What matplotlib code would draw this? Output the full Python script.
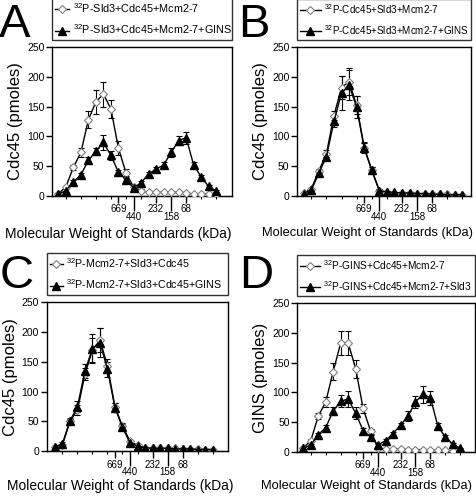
import matplotlib
matplotlib.use("Agg")
import matplotlib.pyplot as plt

plt.rcParams['font.family'] = ['Liberation Sans', 'DejaVu Sans']
plt.rcParams['mathtext.default'] = 'regular'

# fraction numbers along the gel filtration column
fractions = [1, 2, 3, 4, 5, 6, 7, 8, 9, 10, 11, 12, 13, 14, 15, 16, 17, 18, 19, 20, 21, 22]

# molecular weight standards (kDa) and the fraction where they elute
std_upper_pos = [9, 14, 18]
std_upper_lab = ['669', '232', '68']
std_lower_pos = [11, 16]
std_lower_lab = ['440', '158']
minor_pos = [2, 4, 6, 8, 10, 12, 14, 16, 18, 20, 22]

# panel A
a_open = [4, 15, 48, 73, 128, 158, 171, 146, 80, 39, 15, 9, 6, 6, 6, 6, 6, 5, 3, 3, 3, 3]
a_open_err = [1, 2, 4, 7, 14, 20, 21, 15, 12, 6, 3, 2, 1, 1, 1, 1, 1, 1, 1, 1, 1, 1]
a_fill = [3, 9, 24, 35, 60, 75, 90, 68, 40, 27, 14, 22, 37, 45, 52, 73, 93, 98, 52, 32, 16, 8]
a_fill_err = [1, 2, 3, 4, 5, 6, 12, 7, 4, 3, 2, 3, 4, 4, 5, 8, 8, 10, 5, 3, 2, 2]

# panel B
b_open = [5, 12, 42, 71, 135, 182, 192, 152, 81, 43, 9, 6, 5, 5, 5, 4, 4, 3, 3, 3, 2, 2]
b_open_err = [1, 2, 4, 6, 8, 20, 22, 15, 8, 5, 2, 1, 1, 1, 1, 1, 1, 1, 1, 1, 1, 1]
b_fill = [4, 10, 38, 66, 125, 173, 186, 149, 81, 44, 9, 7, 6, 5, 5, 4, 4, 3, 3, 2, 2, 2]
b_fill_err = [1, 2, 4, 6, 10, 28, 25, 18, 9, 5, 2, 1, 1, 1, 1, 1, 1, 1, 1, 1, 1, 1]

# panel C
c_open = [7, 11, 50, 69, 129, 170, 186, 143, 74, 42, 17, 10, 6, 5, 5, 5, 5, 4, 4, 4, 3, 3]
c_open_err = [1, 2, 4, 8, 10, 20, 20, 12, 7, 5, 2, 2, 1, 1, 1, 1, 1, 1, 1, 1, 1, 1]
c_fill = [7, 13, 51, 75, 135, 172, 182, 137, 73, 40, 14, 9, 6, 5, 5, 5, 4, 4, 4, 3, 3, 3]
c_fill_err = [1, 2, 4, 10, 12, 24, 24, 12, 8, 5, 2, 1, 1, 1, 1, 1, 1, 1, 1, 1, 1, 1]

# panel D
d_open = [7, 19, 60, 84, 135, 183, 183, 140, 73, 35, 6, 5, 5, 5, 4, 4, 4, 3, 3, 3, 2, 2]
d_open_err = [1, 2, 5, 8, 15, 20, 20, 15, 8, 4, 1, 1, 1, 1, 1, 1, 1, 1, 1, 1, 1, 1]
d_fill = [6, 12, 29, 41, 69, 85, 89, 65, 36, 25, 12, 19, 31, 45, 60, 84, 97, 91, 43, 25, 13, 6]
d_fill_err = [1, 2, 3, 4, 7, 10, 14, 10, 5, 3, 2, 2, 3, 4, 8, 10, 14, 12, 5, 3, 2, 1]

XLABEL = 'Molecular Weight of Standards (kDa)'

panels = [
    dict(letter='A', rect=(52, 47, 232, 196), xlim=(0.16, 24.1), ylabel='Cdc45 (pmoles)',
         open=a_open, open_err=a_open_err, fill=a_fill, fill_err=a_fill_err,
         labels=['$^{32}$P-Sld3+Cdc45+Mcm2-7', '$^{32}$P-Sld3+Cdc45+Mcm2-7+GINS'],
         leg=(7.8, 1.3), lpos=(-1, 3), xlab=(118, 227, 9.9)),
    dict(letter='B', rect=(297, 47, 471.5, 196), xlim=(0.11, 23.2), ylabel='Cdc45 (pmoles)',
         open=b_open, open_err=b_open_err, fill=b_fill, fill_err=b_fill_err,
         labels=['$^{32}$P-Cdc45+Sld3+Mcm2-7', '$^{32}$P-Cdc45+Sld3+Mcm2-7+GINS'],
         leg=(7.1, 2.1), lpos=(238, 3), xlab=(368, 227, 9.3)),
    dict(letter='C', rect=(46.7, 302, 228.3, 451.3), xlim=(-0.1, 24.1), ylabel='Cdc45 (pmoles)',
         open=c_open, open_err=c_open_err, fill=c_fill, fill_err=c_fill_err,
         labels=['$^{32}$P-Mcm2-7+Sld3+Cdc45', '$^{32}$P-Mcm2-7+Sld3+Cdc45+GINS'],
         leg=(7.7, 1.2), lpos=(0, 254), xlab=(120, 479, 9.9)),
    dict(letter='D', rect=(297.3, 303, 475.3, 452), xlim=(0.2, 24.0), ylabel='GINS (pmoles)',
         open=d_open, open_err=d_open_err, fill=d_fill, fill_err=d_fill_err,
         labels=['$^{32}$P-GINS+Cdc45+Mcm2-7', '$^{32}$P-GINS+Cdc45+Mcm2-7+Sld3'],
         leg=(7.3, 1.9), lpos=(239, 254), xlab=(367, 480, 9.3)),
]

W, H = 477, 497
fig = plt.figure(figsize=(W / 100, H / 100), dpi=100)

for p in panels:
    x0, y0, x1, y1 = p['rect']
    ax = fig.add_axes([x0 / W, 1 - y1 / H, (x1 - x0) / W, (y1 - y0) / H])

    # error bars first, then lines and markers on top
    ax.errorbar(fractions, p['open'], yerr=p['open_err'], fmt='none', ecolor='black',
                elinewidth=0.8, capsize=2, capthick=0.8, zorder=2)
    ax.errorbar(fractions, p['fill'], yerr=p['fill_err'], fmt='none', ecolor='black',
                elinewidth=0.8, capsize=2, capthick=0.8, zorder=2)
    h1, = ax.plot(fractions, p['open'], '-', color='black', lw=1.0, marker='D', ms=4.5,
                  mfc='white', mec='#808080', mew=0.8, zorder=3)
    h2, = ax.plot(fractions, p['fill'], '-', color='black', lw=1.0, marker='^', ms=5.5,
                  mfc='black', mec='black', zorder=4)

    ax.set_xlim(*p['xlim'])
    ax.set_ylim(0, 250)
    ax.set_yticks([0, 50, 100, 150, 200, 250])
    ax.tick_params(axis='y', direction='out', length=4, width=1, labelsize=7.5, pad=1.5)
    ax.set_ylabel(p['ylabel'], fontsize=12, labelpad=3)

    ax.set_xticks(std_upper_pos, labels=std_upper_lab)
    ax.set_xticks(minor_pos, minor=True)
    ax.tick_params(axis='x', which='major', direction='out', length=5, width=1,
                   labelsize=7, pad=1)
    ax.tick_params(axis='x', which='minor', direction='out', length=2.2, width=0.8)

    # the second row of standards has longer ticks
    sec = ax.secondary_xaxis('bottom')
    sec.set_xticks(std_lower_pos, labels=std_lower_lab)
    sec.tick_params(axis='x', direction='out', length=11, width=1, labelsize=7, pad=0.5)

    for s in ax.spines.values():
        s.set_linewidth(1.0)

    fs, hl = p['leg']
    leg = ax.legend([h1, h2], p['labels'], loc='lower left', bbox_to_anchor=(0, 1.05, 1, 0.25),
                    mode='expand', borderaxespad=0, fontsize=fs, frameon=True, fancybox=False,
                    edgecolor='black', handlelength=hl, handletextpad=0.3, labelspacing=0.7,
                    borderpad=0.3)
    leg.get_frame().set_linewidth(1.0)

    xl, yl, xfs = p['xlab']
    fig.text(xl / W, 1 - yl / H, XLABEL, fontsize=xfs, ha='center', va='top')

    fig.text(p['lpos'][0] / W, 1 - p['lpos'][1] / H, p['letter'], fontsize=34,
             ha='left', va='top')

fig.savefig('out.png', dpi=100)
